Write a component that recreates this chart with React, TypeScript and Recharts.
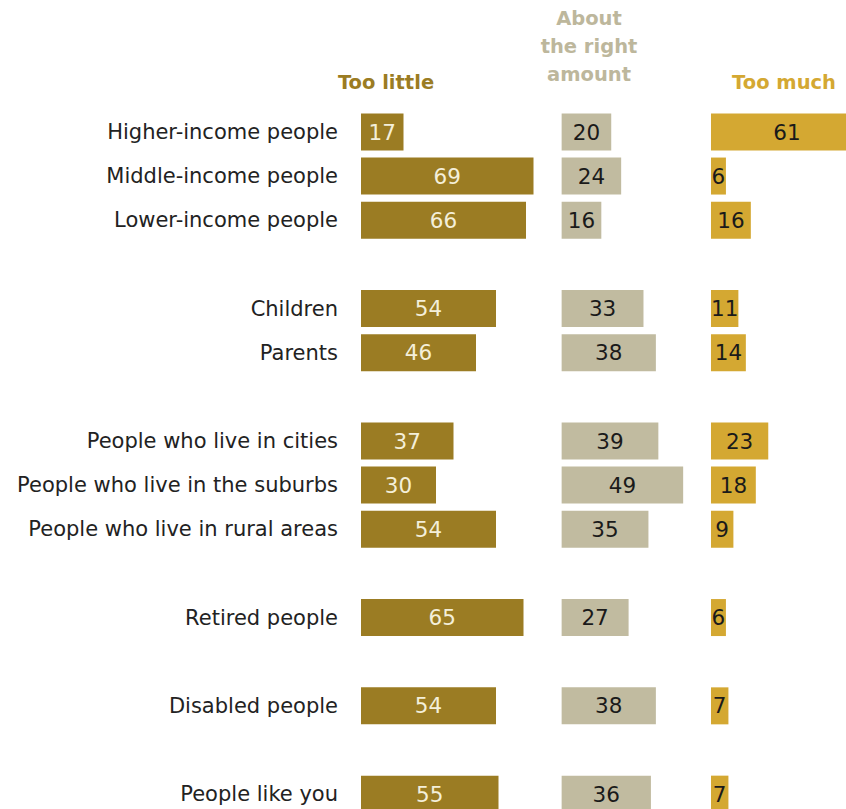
import React from "react";
import { BarChart, Bar, XAxis, YAxis, LabelList } from "recharts";

const categories: string[] = [
  "Higher-income people",
  "Middle-income people",
  "Lower-income people",
  "",
  "Children",
  "Parents",
  "",
  "People who live in cities",
  "People who live in the suburbs",
  "People who live in rural areas",
  "",
  "Retired people",
  "",
  "Disabled people",
  "",
  "People like you",
];

const tooLittle: (number | null)[] = [17, 69, 66, null, 54, 46, null, 37, 30, 54, null, 65, null, 54, null, 55];
const aboutRight: (number | null)[] = [20, 24, 16, null, 33, 38, null, 39, 49, 35, null, 27, null, 38, null, 36];
const tooMuch: (number | null)[] = [61, 6, 16, null, 11, 14, null, 23, 18, 9, null, 6, null, 7, null, 7];

const seriesNames = ["Too little", "About the right amount", "Too much"];

const data = categories.map((label, i) => ({
  label,
  little: tooLittle[i],
  about: aboutRight[i],
  much: tooMuch[i],
}));

const C_LITTLE = "#9B7C23";
const C_ABOUT = "#C1BBA0";
const C_MUCH = "#D4A832";
const FONT = "'DejaVu Sans', sans-serif";
const VAL_SIZE = 21.5;

export default function App() {
  return (
    <div
      style={{
        position: "absolute",
        left: 0,
        top: 0,
        width: 846,
        height: 809,
        overflow: "hidden",
        background: "#ffffff",
        fontFamily: FONT,
      }}
    >
      <div
        style={{
          position: "absolute",
          left: 306,
          width: 160,
          top: 69,
          textAlign: "center",
          fontWeight: "bold",
          fontSize: 19.5,
          lineHeight: "28px",
          color: C_LITTLE,
        }}
      >
        {seriesNames[0]}
      </div>
      <div
        style={{
          position: "absolute",
          left: 509,
          width: 160,
          top: 5,
          textAlign: "center",
          fontWeight: "bold",
          fontSize: 19.5,
          lineHeight: "28px",
          color: "#BDB79C",
        }}
      >
        About
        <br />
        the right
        <br />
        amount
      </div>
      <div
        style={{
          position: "absolute",
          left: 704,
          width: 160,
          top: 69,
          textAlign: "center",
          fontWeight: "bold",
          fontSize: 19.5,
          lineHeight: "28px",
          color: C_MUCH,
        }}
      >
        {seriesNames[2]}
      </div>
      <BarChart
        width={846}
        height={820}
        data={data}
        layout="vertical"
        margin={{ top: 109.4, right: 0, bottom: 4.2, left: 0 }}
        style={{ position: "absolute", left: 0, top: 0 }}
      >
        <XAxis xAxisId="l" type="number" hide domain={[0, 194]} allowDataOverflow />
        <XAxis xAxisId="m" type="number" hide domain={[-80.9, 114.66]} allowDataOverflow />
        <XAxis xAxisId="r" type="number" hide domain={[-140.56, 54.22]} allowDataOverflow />
        <YAxis
          yAxisId="l"
          type="category"
          dataKey="label"
          width={361}
          tickSize={0}
          tickMargin={23}
          axisLine={false}
          tickLine={false}
          interval={0}
          tick={{ fontSize: 21, fill: "#222222", fontFamily: FONT }}
        />
        <YAxis yAxisId="m" type="category" dataKey="label" hide />
        <YAxis yAxisId="r" type="category" dataKey="label" hide />
        <Bar
          dataKey="little"
          name={seriesNames[0]}
          xAxisId="l"
          yAxisId="l"
          fill={C_LITTLE}
          barSize={37}
          isAnimationActive={false}
        >
          <LabelList dataKey="little" position="center" fill="#F4EFD9" fontSize={VAL_SIZE} fontFamily={FONT} />
        </Bar>
        <Bar
          dataKey="about"
          name={seriesNames[1]}
          xAxisId="m"
          yAxisId="m"
          fill={C_ABOUT}
          barSize={37}
          isAnimationActive={false}
        >
          <LabelList dataKey="about" position="center" fill="#1a1a1a" fontSize={VAL_SIZE} fontFamily={FONT} />
        </Bar>
        <Bar
          dataKey="much"
          name={seriesNames[2]}
          xAxisId="r"
          yAxisId="r"
          fill={C_MUCH}
          barSize={37}
          isAnimationActive={false}
        >
          <LabelList dataKey="much" position="center" fill="#1a1a1a" fontSize={VAL_SIZE} fontFamily={FONT} />
        </Bar>
      </BarChart>
    </div>
  );
}
